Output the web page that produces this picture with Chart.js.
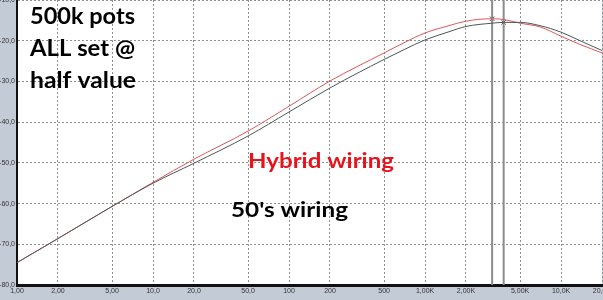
<!DOCTYPE html>
<html>
<head>
<meta charset="utf-8">
<script src="https://cdn.jsdelivr.net/npm/chart.js@4.4.1/dist/chart.umd.min.js"></script>
<style>
  html, body { margin: 0; padding: 0; background: #c3cbd7; }
  #wrap { width: 603px; height: 300px; position: relative; }
</style>
</head>
<body>
<div id="wrap"><canvas id="response"></canvas></div>
<script>
// frequency response
var freqs = [1, 2, 5, 10, 20, 50, 100, 200, 500, 700, 1000, 1500, 2000, 3100, 3800, 5000, 7000, 10000, 14000, 20000];
var hybrid = [-74.5, -68.6, -60.7, -54.8, -49.1, -42.2, -36.1, -29.9, -23.0, -20.5, -18.1, -16.3, -15.2, -14.6, -14.8, -15.7, -16.6, -18.9, -21.0, -23.0];
var fifties = [-74.5, -68.6, -60.7, -55.0, -50.1, -43.4, -37.5, -31.6, -24.6, -22.2, -19.8, -17.8, -16.5, -15.7, -15.5, -15.5, -16.3, -17.9, -20.1, -22.4];

// cursors
var cursorFreqs = [3113, 3784];
var cursorLevels = [-14.6, -15.5];

// axis ticks
var xTicks = [1, 2, 5, 10, 20, 50, 100, 200, 500, 1000, 2000, 5000, 10000, 20000];
var xTickLabels = ["1,00", "2,00", "5,00", "10,0", "20,0", "50,0", "100", "200", "500", "1,00K", "2,00K", "5,00K", "10,0K", "20,0K"];
var yTicks = [-80, -70, -60, -50, -40, -30, -20, -10];
var yTickLabels = ["-80,0", "-70,0", "-60,0", "-50,0", "-40,0", "-30,0", "-20,0", "-10,0"];

function toPoints(xs, ys) {
    return xs.map(function (x, i) { return { x: x, y: ys[i] }; });
}

var cursorSets = cursorFreqs.map(function (f) {
    return {
        data: [{ x: f, y: -80 }, { x: f, y: -10 }],
        borderColor: "#8c8c8c",
        borderWidth: 2,
        pointRadius: 0,
        tension: 0
    };
});

var backdrop = {
    id: "backdrop",
    beforeDraw: function (chart) {
        var ctx = chart.ctx, a = chart.chartArea;
        ctx.save();
        ctx.fillStyle = "#c3cbd7";
        ctx.fillRect(0, 0, chart.width, chart.height);
        ctx.fillStyle = "#ffffff";
        ctx.fillRect(a.left, a.top, a.right - a.left, a.bottom - a.top);
        ctx.restore();
    }
};

// draw a note squeezed or stretched to the width it has in the picture
function note(ctx, text, x, y, size, width) {
    ctx.font = "bold " + size + "px Lato";
    var w = ctx.measureText(text).width;
    ctx.save();
    ctx.translate(x, y);
    ctx.scale(width / w, 1);
    ctx.fillText(text, 0, 0);
    ctx.restore();
}

var notes = {
    id: "notes",
    afterDatasetsDraw: function (chart) {
        var ctx = chart.ctx;
        ctx.save();
        ctx.textBaseline = "alphabetic";
        ctx.textAlign = "left";
        ctx.fillStyle = "#000000";
        note(ctx, "500k pots", 30, 24, 22, 105);
        note(ctx, "ALL set @", 30, 56, 22, 105);
        note(ctx, "half value", 30, 88, 22, 106);
        ctx.fillStyle = "#e8141c";
        note(ctx, "Hybrid wiring", 248, 168, 21, 146);
        ctx.fillStyle = "#000000";
        note(ctx, "50's wiring", 231, 217, 20, 117);
        // axis title, cut off by the bottom edge like in the picture
        ctx.fillStyle = "#555555";
        ctx.font = "8px Liberation Sans";
        ctx.textAlign = "center";
        ctx.fillText("Frequency", 305, 306);
        ctx.restore();
    }
};

new Chart(document.getElementById("response"), {
    type: "line",
    data: {
        datasets: [
            {
                data: toPoints(freqs, fifties),
                borderColor: "#4d5757",
                borderWidth: 1,
                pointRadius: 0,
                cubicInterpolationMode: "monotone"
            },
            {
                data: toPoints(freqs, hybrid),
                borderColor: "#e0575c",
                borderWidth: 1,
                pointRadius: 0,
                cubicInterpolationMode: "monotone"
            }
        ].concat(cursorSets, [
            {
                data: toPoints(cursorFreqs, cursorLevels),
                showLine: false,
                pointStyle: "crossRot",
                pointRadius: 3,
                pointBorderColor: "#333333",
                pointBorderWidth: 1
            }
        ])
    },
    options: {
        responsive: true,
        maintainAspectRatio: false,
        animation: false,
        layout: { autoPadding: false, padding: { top: 0, right: 1, left: 0, bottom: 0 } },
        plugins: {
            legend: { display: false },
            tooltip: { enabled: false }
        },
        scales: {
            x: {
                type: "logarithmic",
                min: 1,
                max: 20000,
                afterBuildTicks: function (scale) {
                    scale.ticks = xTicks.map(function (v) { return { value: v }; });
                },
                afterFit: function (scale) {
                    scale.height = 15;
                    scale.paddingLeft = 0;
                    scale.paddingRight = 0;
                },
                ticks: {
                    autoSkip: false,
                    maxRotation: 0,
                    padding: 2,
                    color: "#333333",
                    font: { family: "Liberation Sans", size: 7 },
                    callback: function (v) {
                        var i = xTicks.indexOf(v);
                        return i < 0 ? "" : xTickLabels[i];
                    }
                },
                grid: {
                    color: "#8f8f8f",
                    drawTicks: false,
                    tickLength: 0
                },
                border: { color: "#111111", width: 3, dash: [2, 2] }
            },
            y: {
                min: -80,
                max: -10,
                afterBuildTicks: function (scale) {
                    scale.ticks = yTicks.map(function (v) { return { value: v }; });
                },
                afterFit: function (scale) {
                    scale.width = 17;
                    scale.paddingTop = 0;
                    scale.paddingBottom = 0;
                },
                ticks: {
                    padding: 2,
                    color: "#333333",
                    font: { family: "Liberation Sans", size: 7 },
                    callback: function (v) {
                        var i = yTicks.indexOf(v);
                        return i < 0 ? "" : yTickLabels[i];
                    }
                },
                grid: {
                    color: "#8f8f8f",
                    drawTicks: false,
                    tickLength: 0
                },
                border: { color: "#111111", width: 2, dash: [2, 2] }
            }
        }
    },
    plugins: [backdrop, notes]
});
</script>
</body>
</html>
